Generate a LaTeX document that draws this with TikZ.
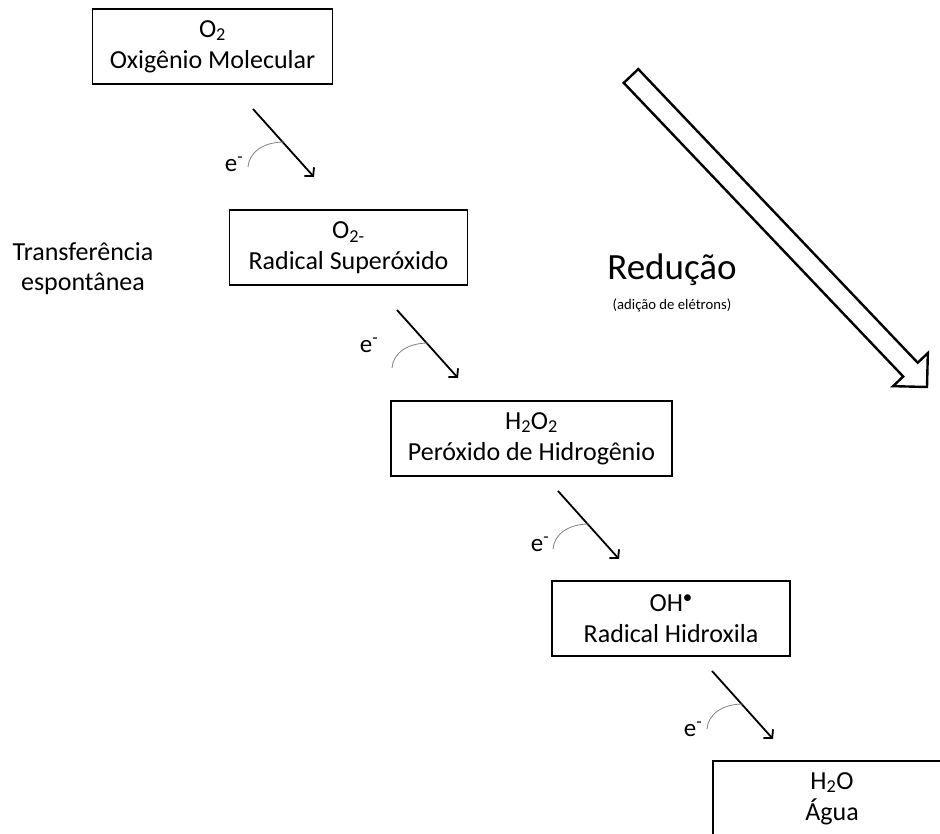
\documentclass[tikz,border=0pt]{standalone}
\usepackage{fontspec}
\setmainfont{Carlito}
\usetikzlibrary{arrows.meta,calc}

\tikzset{
  specie/.style={draw, line width=1.3pt, minimum width=238pt, minimum height=75pt,
    inner xsep=17pt, align=center, font=\fontsize{26}{31}\selectfont},
  eflow/.style={line width=1.8pt, -{Straight Barb[length=6pt,width=13pt]}},
  ecurve/.style={gray, line width=0.8pt},
  elabel/.style={font=\fontsize{25}{30}\selectfont},
}

\begin{document}
\begin{tikzpicture}[x=1pt,y=-1pt]
\clip (0,0) rectangle (940,834);
\node[specie] (o2) at (212.5,46.5) {O\textsubscript{2}\\Oxigênio Molecular};
\node[specie] (sup) at (348.5,247.5) {O\textsubscript{2-}\\Radical Superóxido};
\node[specie] (per) at (531.5,438.5) {H\textsubscript{2}O\textsubscript{2}\\Peróxido de Hidrogênio};
\node[specie] (hid) at (671,618.5) {OH\raisebox{0.6ex}{\fontsize{19}{19}\selectfont\textbullet}\\Radical Hidroxila};
\node[specie] (agua) at (832,798.5) {H\textsubscript{2}O\\Água};
\node[align=center, font=\fontsize{26}{30}\selectfont] (transf) at (83,269) {Transferência\\espontânea};

% electron steps
\foreach \n/\sx/\sy/\ex/\ey in {1/253/109/234/164, 2/397/310/369/345, 3/558/491/540/544, 4/712/671/693/729} {
  \coordinate (s\n) at (\sx,\sy);
  \coordinate (t\n) at ($(s\n)+(61,68)$);
  \coordinate (c\n) at ($(s\n)+(-5,58)$);
  \coordinate (d\n) at ($(s\n)+(31,33)$);
  \draw[eflow] (s\n) -- (t\n);
  \draw[ecurve] (c\n) .. controls ($(c\n)+(1,-15)$) and ($(d\n)+(-20,0)$) .. (d\n);
  \node[elabel] (e\n) at (\ex,\ey) {e\textsuperscript{-}};
}

% big hollow arrow
\coordinate (rt) at (631,76);
\coordinate (rh) at (927,387);
\coordinate (rb) at ($(rh)!24pt!(rt)$);
\draw[line width=2.4pt, line join=miter]
  ($(rt)!10pt!90:(rh)$) -- ($(rb)!10pt!90:(rh)$) -- ($(rb)!24pt!90:(rh)$) -- (rh)
  -- ($(rb)!24pt!-90:(rh)$) -- ($(rb)!10pt!-90:(rh)$) -- ($(rt)!10pt!-90:(rh)$) -- cycle;
\node[font=\fontsize{37}{44}\selectfont] (red) at (672,270) {Redução};
\node[font=\fontsize{14.7}{18}\selectfont] (adic) at (672,305) {(adição de elétrons)};
\end{tikzpicture}
\end{document}
